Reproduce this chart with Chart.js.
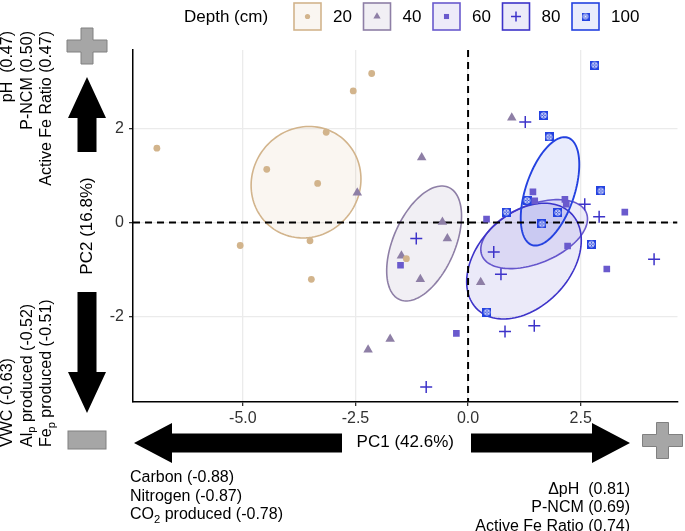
<!DOCTYPE html>
<html lang="en">
<head>
<meta charset="UTF-8" />
<title>PCA scores by depth</title>
<script src="https://cdn.jsdelivr.net/npm/chart.js"></script>
<style>
  body { margin: 0; background: #fff; }
</style>
</head>
<body>
<canvas id="pca" width="685" height="531"></canvas>
<script>
// ---- data ----
const depths = ["20", "40", "60", "80", "100"];

const pc1_20 = [-6.91, -4.47, -3.34, -3.15, -2.55, -2.14, -5.06, -3.51, -3.48, -1.37];
const pc2_20 = [1.58, 1.13, 0.83, 1.92, 2.80, 3.17, -0.49, -0.39, -1.21, -0.77];

const pc1_40 = [0.97, -1.03, -2.46, -0.57, -0.46, -1.48, -1.06, 0.28, -1.73, -2.22];
const pc2_40 = [2.23, 1.38, 0.63, 0.01, -0.34, -0.71, -1.21, -1.27, -2.48, -2.71];

const pc1_60 = [0.41, -1.50, 1.44, 1.48, 2.15, 2.18, 3.48, 2.21, 3.08, -0.26];
const pc2_60 = [0.07, -0.91, 0.65, 0.46, 0.49, 0.39, 0.22, -0.50, -0.99, -2.36];

const pc1_80 = [1.27, -1.15, 2.59, 2.91, 0.57, 0.73, 4.13, 0.82, 1.47, -0.93];
const pc2_80 = [2.14, -0.34, 0.39, 0.12, -0.63, -1.10, -0.78, -2.32, -2.20, -3.50];

const pc1_100 = [2.81, 1.68, 1.80, 1.31, 0.85, 1.99, 1.64, 2.95, 2.74, 0.42];
const pc2_100 = [3.35, 2.28, 1.82, 0.47, 0.22, 0.21, -0.03, 0.67, -0.46, -1.91];

const xTicks = [-5, -2.5, 0, 2.5];
const xTickLabels = ["-5.0", "-2.5", "0.0", "2.5"];
const yTicks = [-2, 0, 2];
const yTickLabels = ["-2", "0", "2"];

// loading labels (arrays inside a line = subscript)
const pc2Pos = [["pH  (0.47)"], ["P-NCM (0.50)"], ["Active Fe Ratio (0.47)"]];
const pc2Neg = [["VWC (-0.63)"], ["Al", ["p"], " produced (-0.52)"], ["Fe", ["p"], " produced (-0.51)"]];
const pc1Neg = [["Carbon (-0.88)"], ["Nitrogen (-0.87)"], ["CO", ["2"], " produced (-0.78)"]];
const pc1Pos = [["\u0394pH  (0.81)"], ["P-NCM (0.69)"], ["Active Fe Ratio (0.74)"]];

// ---- styles ----
const FONT = "'Liberation Sans', Arial, Helvetica, sans-serif";
const colors = ["#d2b48c", "#8e7fa6", "#6a5acd", "#3d33c9", "#2442e0"];
const fills = ["rgba(210,180,140,0.12)", "rgba(142,127,166,0.12)", "rgba(106,90,205,0.12)",
               "rgba(61,51,201,0.10)", "rgba(36,66,224,0.10)"];

function boxCross(size, color) {
  const c = document.createElement("canvas");
  c.width = size; c.height = size;
  const g = c.getContext("2d");
  g.fillStyle = color;
  g.fillRect(0, 0, size, size);
  g.strokeStyle = "#fff";
  g.lineWidth = 0.9;
  const m = size / 2, r = size * 0.3, q = r * 0.7;
  g.beginPath(); g.arc(m, m, r, 0, Math.PI * 2); g.stroke();
  g.beginPath();
  g.moveTo(m - q, m - q); g.lineTo(m + q, m + q);
  g.moveTo(m + q, m - q); g.lineTo(m - q, m + q);
  g.stroke();
  return c;
}

const pointStyles = ["circle", "triangle", "rect", "cross", boxCross(9, colors[4])];
const pointRadius = [3.4, 5.5, 4.7, 6, 5];
const legendStyles = ["circle", "triangle", "rect", "cross", boxCross(8, colors[4])];
const legendRadius = [2.6, 4.2, 3.6, 5, 4];

const xs = [pc1_20, pc1_40, pc1_60, pc1_80, pc1_100];
const ys = [pc2_20, pc2_40, pc2_60, pc2_80, pc2_100];

const datasets = depths.map((d, i) => ({
  label: d,
  data: xs[i].map((x, j) => ({ x: x, y: ys[i][j] })),
  pointStyle: pointStyles[i],
  pointRadius: pointRadius[i],
  backgroundColor: colors[i],
  borderColor: colors[i],
  pointBorderWidth: i === 3 ? 1.5 : 0,
  showLine: false
}));

// 95% confidence ellipse of the group mean
function meanEllipse(px, py) {
  const n = px.length;
  const mx = px.reduce((a, b) => a + b, 0) / n;
  const my = py.reduce((a, b) => a + b, 0) / n;
  let sxx = 0, syy = 0, sxy = 0;
  for (let i = 0; i < n; i++) {
    const dx = px[i] - mx, dy = py[i] - my;
    sxx += dx * dx; syy += dy * dy; sxy += dx * dy;
  }
  const a = sxx / (n - 1) / n, b = sxy / (n - 1) / n, d = syy / (n - 1) / n;
  const l11 = Math.sqrt(a), l21 = b / l11, l22 = Math.sqrt(d - l21 * l21);
  return { mx, my, l11, l21, l22, k: Math.sqrt(5.991) };
}

const ellipsePlugin = {
  id: "ellipses",
  beforeDatasetsDraw(chart) {
    const { ctx, chartArea: ca, scales: { x, y } } = chart;
    ctx.save();
    ctx.beginPath();
    ctx.rect(ca.left, ca.top, ca.right - ca.left, ca.bottom - ca.top);
    ctx.clip();
    for (let g = 0; g < depths.length; g++) {
      const e = meanEllipse(xs[g], ys[g]);
      ctx.beginPath();
      for (let s = 0; s <= 120; s++) {
        const t = (s / 120) * Math.PI * 2;
        const ex = e.mx + e.k * e.l11 * Math.cos(t);
        const ey = e.my + e.k * (e.l21 * Math.cos(t) + e.l22 * Math.sin(t));
        const X = x.getPixelForValue(ex), Y = y.getPixelForValue(ey);
        if (s === 0) ctx.moveTo(X, Y); else ctx.lineTo(X, Y);
      }
      ctx.closePath();
      ctx.fillStyle = fills[g];
      ctx.fill();
      ctx.strokeStyle = colors[g];
      ctx.lineWidth = g === 4 ? 1.9 : 1.6;
      ctx.stroke();
    }
    // dashed zero lines
    ctx.setLineDash([7, 5]);
    ctx.strokeStyle = "#000";
    ctx.lineWidth = 2;
    const x0 = x.getPixelForValue(0), y0 = y.getPixelForValue(0);
    ctx.beginPath();
    ctx.moveTo(x0, ca.top); ctx.lineTo(x0, ca.bottom);
    ctx.moveTo(ca.left, y0); ctx.lineTo(ca.right, y0);
    ctx.stroke();
    ctx.restore();
  }
};

// text with subscripts
function richWidth(ctx, parts, size) {
  let w = 0;
  parts.forEach(p => {
    ctx.font = (Array.isArray(p) ? size * 0.7 : size) + "px " + FONT;
    w += ctx.measureText(Array.isArray(p) ? p[0] : p).width;
  });
  return w;
}
function drawRich(ctx, parts, x, y, size, align) {
  let cx = align === "right" ? x - richWidth(ctx, parts, size) : x;
  ctx.textAlign = "left";
  ctx.textBaseline = "middle";
  parts.forEach(p => {
    const sub = Array.isArray(p);
    const t = sub ? p[0] : p;
    ctx.font = (sub ? size * 0.7 : size) + "px " + FONT;
    ctx.fillText(t, cx, sub ? y + size * 0.3 : y);
    cx += ctx.measureText(t).width;
  });
}

function arrowH(ctx, x1, x2, yc, dir) {
  // dir -1: head at x1 pointing left, +1: head at x2 pointing right
  const sh = 9.5, hh = 20, hl = 38;
  ctx.beginPath();
  if (dir < 0) {
    ctx.moveTo(x1, yc);
    ctx.lineTo(x1 + hl, yc - hh); ctx.lineTo(x1 + hl, yc - sh);
    ctx.lineTo(x2, yc - sh); ctx.lineTo(x2, yc + sh);
    ctx.lineTo(x1 + hl, yc + sh); ctx.lineTo(x1 + hl, yc + hh);
  } else {
    ctx.moveTo(x2, yc);
    ctx.lineTo(x2 - hl, yc - hh); ctx.lineTo(x2 - hl, yc - sh);
    ctx.lineTo(x1, yc - sh); ctx.lineTo(x1, yc + sh);
    ctx.lineTo(x2 - hl, yc + sh); ctx.lineTo(x2 - hl, yc + hh);
  }
  ctx.closePath();
  ctx.fill();
}
function arrowV(ctx, y1, y2, xc, dir) {
  // dir -1: head at y1 pointing up, +1: head at y2 pointing down
  const sw = 9.5, hw = 19, hl = 41;
  ctx.beginPath();
  if (dir < 0) {
    ctx.moveTo(xc, y1);
    ctx.lineTo(xc + hw, y1 + hl); ctx.lineTo(xc + sw, y1 + hl);
    ctx.lineTo(xc + sw, y2); ctx.lineTo(xc - sw, y2);
    ctx.lineTo(xc - sw, y1 + hl); ctx.lineTo(xc - hw, y1 + hl);
  } else {
    ctx.moveTo(xc, y2);
    ctx.lineTo(xc + hw, y2 - hl); ctx.lineTo(xc + sw, y2 - hl);
    ctx.lineTo(xc + sw, y1); ctx.lineTo(xc - sw, y1);
    ctx.lineTo(xc - sw, y2 - hl); ctx.lineTo(xc - hw, y2 - hl);
  }
  ctx.closePath();
  ctx.fill();
}
function grayPlus(ctx, cx, cy) {
  const w = 20, h = 18, t = 6;
  ctx.beginPath();
  ctx.moveTo(cx - t, cy - h); ctx.lineTo(cx + t, cy - h); ctx.lineTo(cx + t, cy - t);
  ctx.lineTo(cx + w, cy - t); ctx.lineTo(cx + w, cy + t); ctx.lineTo(cx + t, cy + t);
  ctx.lineTo(cx + t, cy + h); ctx.lineTo(cx - t, cy + h); ctx.lineTo(cx - t, cy + t);
  ctx.lineTo(cx - w, cy + t); ctx.lineTo(cx - w, cy - t); ctx.lineTo(cx - t, cy - t);
  ctx.closePath();
  ctx.fillStyle = "#a6a6a6"; ctx.fill();
  ctx.strokeStyle = "#808080"; ctx.lineWidth = 1; ctx.stroke();
}

const decorPlugin = {
  id: "decor",
  afterDraw(chart) {
    const ctx = chart.ctx;
    ctx.save();
    ctx.fillStyle = "#000";
    arrowH(ctx, 134, 342, 443, -1);
    arrowH(ctx, 471, 630, 443, 1);
    arrowV(ctx, 77, 152, 87, -1);
    arrowV(ctx, 292, 413, 87, 1);
    grayPlus(ctx, 87, 46);
    grayPlus(ctx, 662.5, 440.5);
    ctx.fillStyle = "#a6a6a6"; ctx.strokeStyle = "#808080"; ctx.lineWidth = 1;
    ctx.fillRect(68, 431, 38, 18); ctx.strokeRect(68, 431, 38, 18);

    ctx.fillStyle = "#000";
    const colX = [8, 27.5, 47];
    pc2Pos.forEach((line, i) => {
      ctx.save(); ctx.translate(colX[i], 31); ctx.rotate(-Math.PI / 2);
      drawRich(ctx, line, 0, 0, 16, "right"); ctx.restore();
    });
    pc2Neg.forEach((line, i) => {
      ctx.save(); ctx.translate(colX[i], 447); ctx.rotate(-Math.PI / 2);
      drawRich(ctx, line, 0, 0, 16, "left"); ctx.restore();
    });
    pc1Neg.forEach((line, i) => drawRich(ctx, line, 130, 478 + i * 18.5, 16, "left"));
    pc1Pos.forEach((line, i) => drawRich(ctx, line, 630, 489.5 + i * 18.5, 16, "right"));

    // legend
    ctx.font = "17px " + FONT;
    ctx.textAlign = "left"; ctx.textBaseline = "middle";
    ctx.fillText("Depth (cm)", 184, 17);
    depths.forEach((d, i) => {
      const bx = 294 + i * 69.5, by = 3, bs = 27;
      ctx.fillStyle = fills[i];
      ctx.fillRect(bx, by, bs, bs);
      ctx.strokeStyle = colors[i]; ctx.lineWidth = 1.6;
      ctx.strokeRect(bx, by, bs, bs);
      ctx.fillStyle = colors[i];
      ctx.lineWidth = 1.5;
      Chart.helpers.drawPoint(ctx, {
        pointStyle: legendStyles[i], radius: legendRadius[i], rotation: 0,
        borderWidth: i === 3 ? 1.5 : 0
      }, bx + bs / 2, by + bs / 2);
      ctx.fillStyle = "#000";
      ctx.font = "17px " + FONT;
      ctx.textAlign = "left"; ctx.textBaseline = "middle";
      ctx.fillText(d, bx + 39, 17);
    });
    ctx.restore();
  }
};

const tickFont = { family: FONT, size: 16 };
const titleFont = { family: FONT, size: 17 };

new Chart(document.getElementById("pca"), {
  type: "scatter",
  data: { datasets: datasets },
  options: {
    responsive: false,
    animation: false,
    layout: { padding: { top: 50, right: 2, bottom: 78, left: 77 } },
    plugins: { legend: { display: false }, tooltip: { enabled: false } },
    scales: {
      x: {
        type: "linear", min: -7.44, max: 4.65,
        afterBuildTicks: s => { s.ticks = xTicks.map(v => ({ value: v })); },
        afterFit: s => { s.height = 51; },
        ticks: { callback: (v, i) => xTickLabels[i], font: tickFont, color: "#333", padding: 3, maxRotation: 0, autoSkip: false },
        grid: { color: "#ebebeb", lineWidth: 1.3, tickColor: "#333", tickLength: 4 },
        border: { display: true, color: "#000", width: 1.5 },
        title: { display: true, text: "PC1 (42.6%)", font: titleFont, color: "#000", padding: 0 }
      },
      y: {
        type: "linear", min: -3.82, max: 3.67,
        afterBuildTicks: s => { s.ticks = yTicks.map(v => ({ value: v })); },
        afterFit: s => { s.width = 56; },
        ticks: { callback: (v, i) => yTickLabels[i], font: tickFont, color: "#333", padding: 5, autoSkip: false },
        grid: { color: "#ebebeb", lineWidth: 1.3, tickColor: "#333", tickLength: 4 },
        border: { display: true, color: "#000", width: 1.5 },
        title: { display: true, text: "PC2 (16.8%)", font: titleFont, color: "#000", padding: 0 }
      }
    }
  },
  plugins: [ellipsePlugin, decorPlugin]
});
</script>
</body>
</html>
